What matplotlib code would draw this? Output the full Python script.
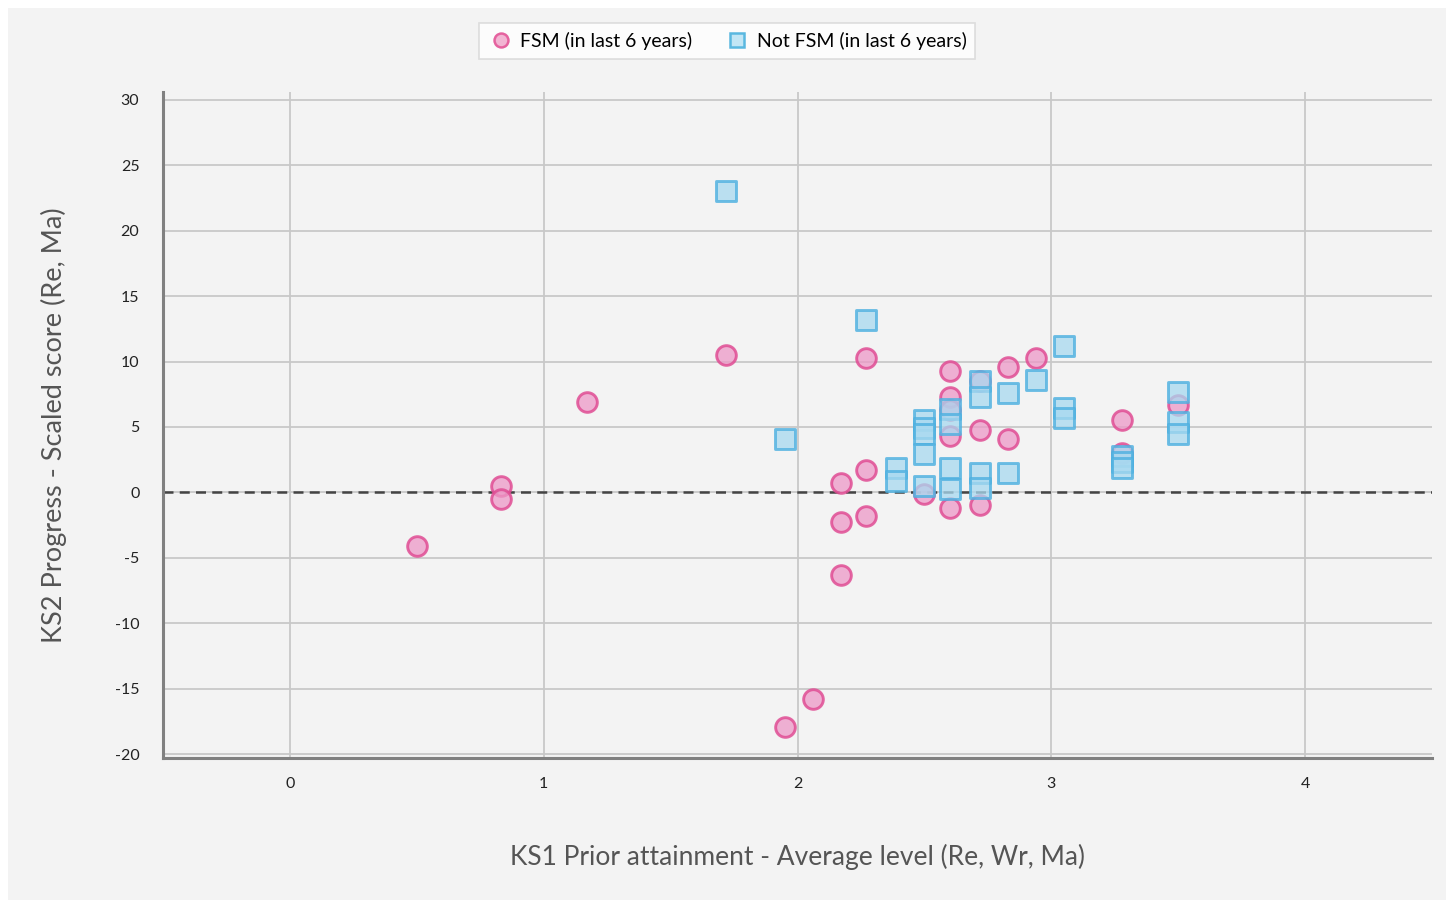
import matplotlib
matplotlib.use('agg')
import matplotlib.pyplot as plt
from matplotlib.patches import Rectangle
from matplotlib.lines import Line2D

# FSM pupils (in last 6 years)
fsm_x = [0.5, 0.83, 0.83, 1.17, 1.72, 1.95, 2.06, 2.17, 2.17, 2.17,
         2.27, 2.27, 2.27, 2.5, 2.6, 2.6, 2.6, 2.6, 2.6, 2.72,
         2.72, 2.72, 2.83, 2.83, 2.94, 3.28, 3.28, 3.5]
fsm_y = [-4.1, 0.5, -0.5, 6.9, 10.5, -17.9, -15.8, 0.7, -2.3, -6.3,
         10.25, 1.7, -1.8, -0.1, 9.3, 7.3, 6.3, 4.3, -1.2, 8.5,
         4.8, -1.0, 9.6, 4.05, 10.25, 5.5, 3.0, 6.7]

# Not FSM pupils
nfsm_x = [1.72, 1.95, 2.27, 2.39, 2.39, 2.5, 2.5, 2.5, 2.5, 2.5,
          2.6, 2.6, 2.6, 2.6, 2.72, 2.72, 2.72, 2.72, 2.83, 2.83,
          2.94, 3.05, 3.05, 3.05, 3.28, 3.28, 3.28, 3.5, 3.5, 3.5]
nfsm_y = [23.0, 4.05, 13.2, 1.85, 0.85, 5.55, 4.9, 4.5, 2.9, 0.45,
          6.4, 5.2, 1.85, 0.25, 8.5, 7.3, 1.45, 0.3, 7.6, 1.5,
          8.6, 11.2, 6.45, 5.65, 2.75, 2.3, 1.85, 7.7, 5.4, 4.5]

x_ticks = [0, 1, 2, 3, 4]
y_ticks = [-20, -15, -10, -5, 0, 5, 10, 15, 20, 25, 30]

plt.rcParams['font.family'] = ['Lato', 'DejaVu Sans']
plt.rcParams['axes.unicode_minus'] = False

fig = plt.figure(figsize=(14.54, 9.02), dpi=100)
fig.patch.set_facecolor('white')
fig.patches.append(Rectangle((8/1454, 2/902), 1438/1454, 892/902, transform=fig.transFigure,
                             facecolor='#f3f3f3', edgecolor='none', zorder=-10))

ax = fig.add_axes([163/1454, 1-758/902, (1432-163)/1454, (758-92)/902])
ax.set_facecolor('#f3f3f3')
ax.set_xlim(-0.5, 4.5)
ax.set_ylim(-20.3, 30.6)
ax.set_xticks(x_ticks)
ax.set_yticks(y_ticks)
ax.grid(True, color='#c8c8c8', linewidth=1.3, zorder=0)
ax.set_axisbelow(True)
for s in ['top', 'right']:
    ax.spines[s].set_visible(False)
for s in ['left', 'bottom']:
    ax.spines[s].set_color('#808080')
    ax.spines[s].set_linewidth(2.2)
ax.tick_params(length=0, labelsize=11.5, colors='#222222')
ax.tick_params(axis='y', pad=17)
ax.tick_params(axis='x', pad=14)

ax.axhline(0, color='#444444', linestyle=(0, (4, 2.5)), linewidth=1.8, zorder=2)

ax.scatter(fsm_x, fsm_y, s=200, marker='o', facecolor=(0.93, 0.6, 0.78, 0.75),
           edgecolor=(0.88, 0.3, 0.58, 0.85), linewidth=2.1, zorder=3)
ax.scatter(nfsm_x, nfsm_y, s=200, marker='s', facecolor=(0.66, 0.85, 0.94, 0.75),
           edgecolor=(0.3, 0.69, 0.88, 0.8), linewidth=2.1, zorder=4)

ax.set_xlabel('KS1 Prior attainment - Average level (Re, Wr, Ma)', fontsize=19,
              color='#555555', labelpad=38)
ax.set_ylabel('KS2 Progress - Scaled score (Re, Ma)', fontsize=19.5,
              color='#555555', labelpad=34)

handles = [
    Line2D([], [], marker='o', linestyle='none', markersize=10,
           markerfacecolor='#f2b5d3', markeredgecolor='#e5629f', markeredgewidth=1.8,
           label='FSM (in last 6 years)'),
    Line2D([], [], marker='s', linestyle='none', markersize=10,
           markerfacecolor='#c2e6f5', markeredgecolor='#5ab8e0', markeredgewidth=1.8,
           label='Not FSM (in last 6 years)'),
]
leg = fig.legend(handles=handles, loc='center', bbox_to_anchor=(727/1454, 1-41/902), ncol=2,
                 frameon=True, fontsize=14, handletextpad=0.3, columnspacing=1.6,
                 handlelength=1.4, borderpad=0.45, fancybox=False)
leg.get_frame().set_edgecolor('#d6d6d6')
leg.get_frame().set_facecolor('white')
leg.get_frame().set_linewidth(1.2)

fig.savefig('out.png', dpi=100)
